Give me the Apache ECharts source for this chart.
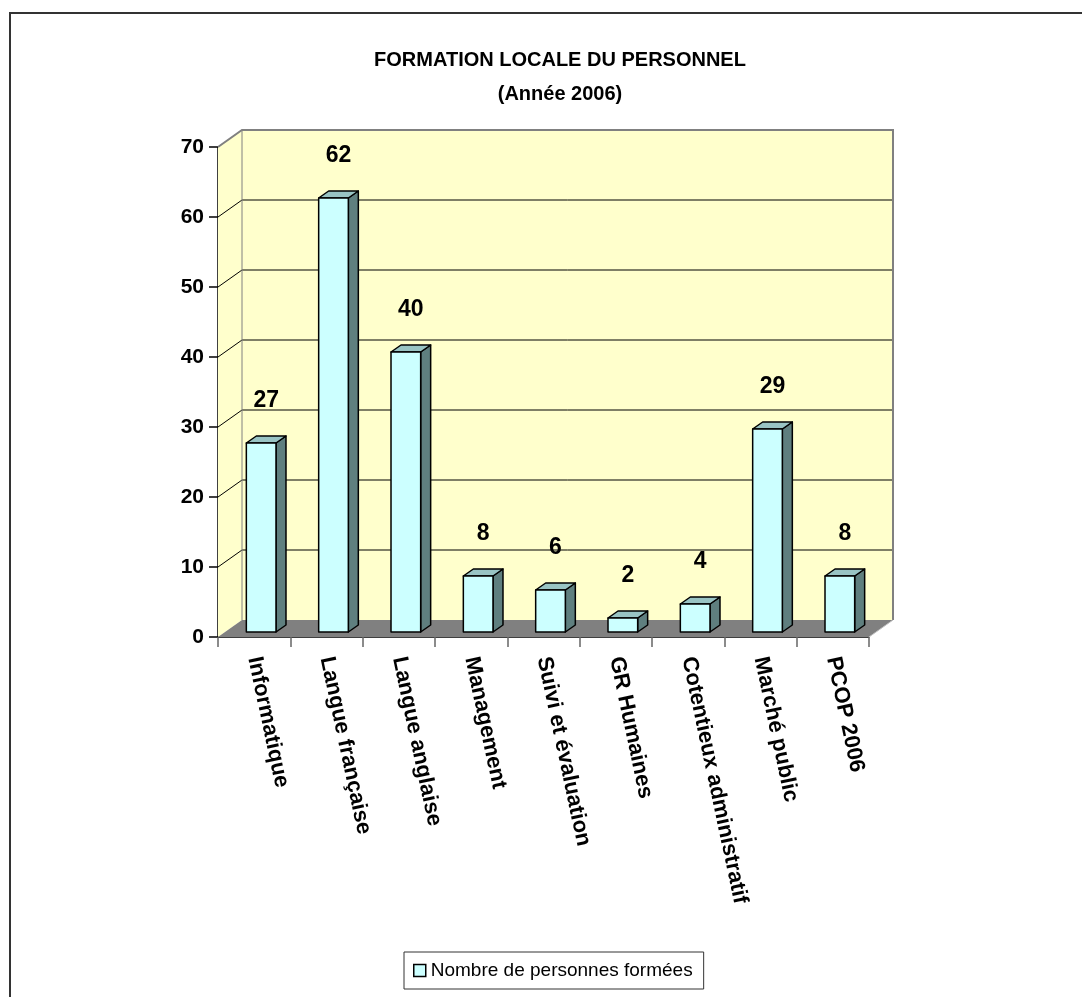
<!DOCTYPE html>
<html>
<head>
<meta charset="utf-8">
<script src="https://cdn.jsdelivr.net/npm/echarts@6.0.0/dist/echarts.min.js"></script>
<style>
html,body{margin:0;padding:0;background:#fff;}
#chart{width:1082px;height:997px;}
</style>
</head>
<body>
<div id="chart"></div>
<script>
// ---- data ----
const categories = ['Informatique', 'Langue française', 'Langue anglaise', 'Management', 'Suivi et évaluation', 'GR Humaines', 'Cotentieux administratif', 'Marché public', 'PCOP 2006'];
const values = [27, 62, 40, 8, 6, 2, 4, 29, 8];
const yTicks = [0, 10, 20, 30, 40, 50, 60, 70];
const seriesName = 'Nombre de personnes formées';
const titleText = 'FORMATION LOCALE DU PERSONNEL';
const subtitleText = '(Année 2006)';

// ---- style ----
const FONT = "'Liberation Sans', Arial, sans-serif";
const DEPTH_X = 24, DEPTH_Y = 17;

const chart = echarts.init(document.getElementById('chart'), null, {renderer: 'canvas'});

function renderWalls(params, api) {
  const cs = params.coordSys;
  const x0 = cs.x, y0 = cs.y, w = cs.width, h = cs.height;
  const yb = y0 + h;
  const children = [];
  children.push({type: 'rect', shape: {x: x0 + DEPTH_X, y: y0 - DEPTH_Y, width: w, height: h},
    style: {fill: '#FFFFCC', stroke: null}});
  children.push({type: 'polygon', shape: {points: [[x0, y0], [x0 + DEPTH_X, y0 - DEPTH_Y], [x0 + DEPTH_X, yb - DEPTH_Y], [x0, yb]]},
    style: {fill: '#FFFFCC', stroke: null}});
  children.push({type: 'polygon', shape: {points: [[x0, yb], [x0 + DEPTH_X, yb - DEPTH_Y], [x0 + w + DEPTH_X, yb - DEPTH_Y], [x0 + w, yb]]},
    style: {fill: '#808080', stroke: null}});
  yTicks.forEach(function (v) {
    if (v === yTicks[0] || v === yTicks[yTicks.length - 1]) return;
    const y = api.coord([0, v])[1];
    children.push({type: 'polyline', shape: {points: [[x0, y], [x0 + DEPTH_X, y - DEPTH_Y], [x0 + w + DEPTH_X, y - DEPTH_Y]]},
      style: {stroke: '#000', lineWidth: 1, fill: null}});
  });
  children.push({type: 'polyline', shape: {points: [[x0, y0], [x0 + DEPTH_X, y0 - DEPTH_Y], [x0 + w + DEPTH_X, y0 - DEPTH_Y], [x0 + w + DEPTH_X, yb - DEPTH_Y]]},
    style: {stroke: '#808080', lineWidth: 2, fill: null}});
  children.push({type: 'line', shape: {x1: x0 + DEPTH_X, y1: y0 - DEPTH_Y, x2: x0 + DEPTH_X, y2: yb - DEPTH_Y},
    style: {stroke: '#808080', lineWidth: 1}});
  children.push({type: 'line', shape: {x1: x0 + w, y1: yb, x2: x0 + w + DEPTH_X, y2: yb - DEPTH_Y},
    style: {stroke: '#c0c0c0', lineWidth: 1}});
  return {type: 'group', children: children};
}

function renderBar(params, api) {
  const idx = api.value(0);
  const v = api.value(1);
  const p0 = api.coord([idx, 0]);
  const p1 = api.coord([idx, v]);
  const band = api.size([1, 0])[0];
  const bw = band * 0.41;
  const offX = 7, offY = 5;
  const bx = 10, by = 7;
  const x = p0[0] - bw / 2 + offX;
  const yBot = p0[1] - offY;
  const yTop = p1[1] - offY;
  const stroke = {stroke: '#000', lineWidth: 1.5, lineJoin: 'round'};
  return {
    type: 'group',
    children: [
      {type: 'polygon', shape: {points: [[x + bw, yTop], [x + bw + bx, yTop - by], [x + bw + bx, yBot - by], [x + bw, yBot]]},
        style: Object.assign({fill: '#5F7F7F'}, stroke)},
      {type: 'polygon', shape: {points: [[x, yTop], [x + bx, yTop - by], [x + bw + bx, yTop - by], [x + bw, yTop]]},
        style: Object.assign({fill: '#99C4C4'}, stroke)},
      {type: 'rect', shape: {x: x, y: yTop, width: bw, height: yBot - yTop},
        style: Object.assign({fill: '#CCFFFF'}, stroke)},
      {type: 'text', x: x + bw / 2 + 5, y: yTop - 42,
        style: {text: String(v), fill: '#000', font: 'bold 23px ' + FONT, align: 'center', verticalAlign: 'middle'}}
    ]
  };
}

const option = {
  backgroundColor: '#fff',
  animation: false,
  title: [
    {text: titleText, left: 555, top: 45, textAlign: 'center',
      textStyle: {fontFamily: FONT, fontSize: 20, fontWeight: 'bold', color: '#000'}},
    {text: subtitleText, left: 555, top: 79, textAlign: 'center',
      textStyle: {fontFamily: FONT, fontSize: 20, fontWeight: 'bold', color: '#000'}}
  ],
  legend: {
    data: [seriesName],
    left: 404, top: 952,
    padding: [9, 11, 9, 9],
    borderColor: '#333', borderWidth: 1, borderRadius: 0,
    icon: 'rect', itemWidth: 12, itemHeight: 12, itemGap: 6,
    itemStyle: {color: '#CCFFFF', borderColor: '#000', borderWidth: 1.5},
    textStyle: {fontFamily: FONT, fontSize: 19, color: '#000'}
  },
  grid: {left: 218, top: 147, width: 651, height: 490, containLabel: false},
  xAxis: {
    type: 'category', data: categories,
    axisLine: {show: true, lineStyle: {color: '#000', width: 1.5}},
    axisTick: {show: true, length: 10, lineStyle: {color: '#666', width: 1.5}},
    axisLabel: {rotate: -78, margin: 20, interval: 0, fontFamily: FONT, fontSize: 22, fontWeight: 'bold', color: '#000'},
    splitLine: {show: false}
  },
  yAxis: {
    type: 'value', min: yTicks[0], max: yTicks[yTicks.length - 1], interval: 10,
    axisLine: {show: true, lineStyle: {color: '#000', width: 1.5}},
    axisTick: {show: true, length: 9, lineStyle: {color: '#000', width: 1.5}},
    axisLabel: {margin: 14, fontFamily: FONT, fontSize: 21, fontWeight: 'bold', color: '#000'},
    splitLine: {show: false}
  },
  graphic: [
    {type: 'polyline', shape: {points: [[10, 1100], [10, 13], [1100, 13]]},
      style: {stroke: '#333', lineWidth: 2, fill: null}, z: 0}
  ],
  series: [
    {type: 'custom', name: 'walls', renderItem: renderWalls, data: [[0, 0]], z: 1, silent: true},
    {type: 'custom', name: seriesName, renderItem: renderBar, z: 3,
      itemStyle: {color: '#CCFFFF'},
      data: values.map(function (v, i) { return [i, v]; })}
  ]
};
chart.setOption(option);
</script>
</body>
</html>
